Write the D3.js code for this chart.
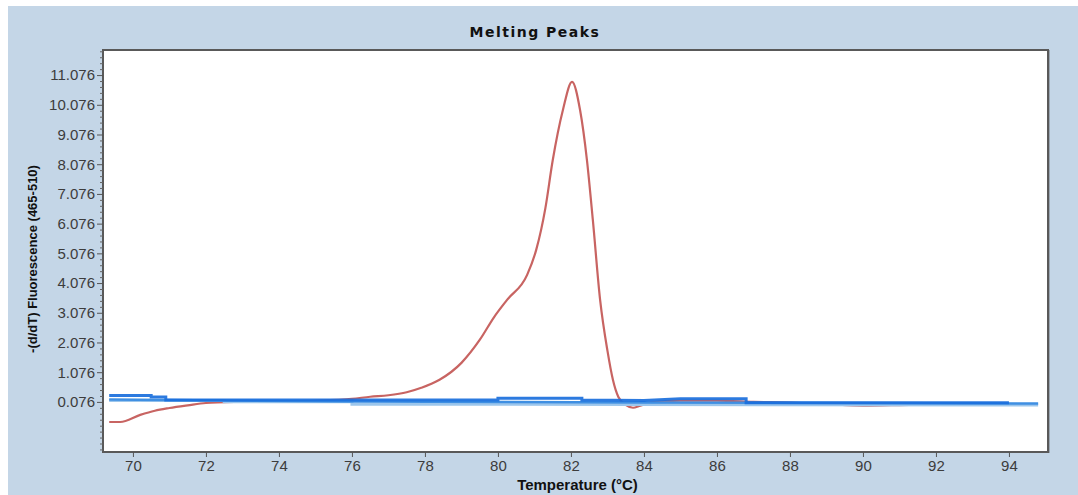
<!DOCTYPE html>
<html>
<head>
<meta charset="utf-8">
<script src="https://cdn.jsdelivr.net/npm/d3@7"></script>
<style>
  html, body { margin: 0; padding: 0; background: #ffffff; }
  svg { display: block; }
</style>
</head>
<body>
<svg id="chart" width="1078" height="495"></svg>
<script>
// Melting peak curve (-dF/dT) of the amplified sample
const sampleTemp = [69.35, 69.65, 70.2, 70.6, 71.0, 71.5, 72.0, 73.0, 74.0, 75.0, 76.0, 76.5, 77.0, 77.5,
  77.9, 78.4, 79.0, 79.5, 79.9, 80.25, 80.8, 81.05, 81.3, 81.5, 81.78, 82.03, 82.25, 82.44, 82.6,
  82.8, 83.0, 83.15, 83.3, 83.5, 83.7, 83.9, 84.2, 85.0, 86.0, 87.0, 88.0, 89.0, 90.0, 91.0, 92.0, 93.0, 94.0];
const sampleValue = [-0.60, -0.60, -0.36, -0.22, -0.13, -0.04, 0.04, 0.08, 0.10, 0.12, 0.18, 0.25, 0.30, 0.40,
  0.55, 0.82, 1.39, 2.16, 2.94, 3.51, 4.35, 5.20, 6.60, 8.20, 9.90, 10.85, 9.90, 8.20, 6.20,
  3.50, 1.80, 0.82, 0.24, -0.02, -0.12, -0.05, 0.06, 0.12, 0.12, 0.08, 0.05, 0.00, -0.05, -0.03, 0.00, 0.00, 0.00];

// Flat control / blank traces
const blankATemp  = [69.35, 70.5, 70.5, 70.9, 70.9, 80.0, 80.0, 82.3, 82.3, 84.0, 85.0, 86.8, 86.8, 94.0];
const blankAValue = [0.29, 0.29, 0.24, 0.24, 0.14, 0.14, 0.20, 0.20, 0.14, 0.12, 0.18, 0.18, 0.05, 0.05];
const blankBTemp  = [69.35, 72.5, 76.0, 84.0, 94.8];
const blankBValue = [0.16, 0.12, 0.09, 0.06, 0.02];
const blankCTemp  = [69.35, 72.5, 72.5, 76.0, 76.0, 94.8];
const blankCValue = [0.12, 0.12, 0.08, 0.08, 0.00, -0.03];

// Axis ticks
const xTicks = [70, 72, 74, 76, 78, 80, 82, 84, 86, 88, 90, 92, 94];
const yTicks = [0.076, 1.076, 2.076, 3.076, 4.076, 5.076, 6.076, 7.076, 8.076, 9.076, 10.076, 11.076];
const yTickLabels = ["0.076", "1.076", "2.076", "3.076", "4.076", "5.076", "6.076", "7.076", "8.076", "9.076", "10.076", "11.076"];

const svg = d3.select("#chart");
const W = 1078, H = 495;
const plot = { left: 103, top: 50, right: 1048, bottom: 452 };

// panel background
svg.append("rect").attr("x", 8).attr("y", 6).attr("width", W - 8).attr("height", H - 6)
  .attr("fill", "#c4d6e7");

const x = d3.scaleLinear().domain([69.18, 95.07]).range([plot.left, plot.right]);
const y = d3.scaleLinear().domain([-1.61, 11.92]).range([plot.bottom, plot.top]);

// plot area
svg.append("rect")
  .attr("x", plot.left).attr("y", plot.top)
  .attr("width", plot.right - plot.left).attr("height", plot.bottom - plot.top)
  .attr("fill", "#ffffff");

svg.append("clipPath").attr("id", "plotclip").append("rect")
  .attr("x", plot.left).attr("y", plot.top)
  .attr("width", plot.right - plot.left).attr("height", plot.bottom - plot.top);

const g = svg.append("g").attr("clip-path", "url(#plotclip)");

const line = d3.line().x(d => x(d[0])).y(d => y(d[1]));
const curved = d3.line().x(d => x(d[0])).y(d => y(d[1])).curve(d3.curveMonotoneX);

const zip = (a, b) => a.map((v, i) => [v, b[i]]);

// sample curve
g.append("path").datum(zip(sampleTemp, sampleValue))
  .attr("d", curved).attr("fill", "none")
  .attr("stroke", "#c86462").attr("stroke-width", 2.2).attr("stroke-linejoin", "round");

// blank traces on top
g.append("path").datum(zip(blankCTemp, blankCValue))
  .attr("d", line).attr("fill", "none").attr("stroke", "#9cc6ec").attr("stroke-width", 3);
g.append("path").datum(zip(blankBTemp, blankBValue))
  .attr("d", line).attr("fill", "none").attr("stroke", "#3f8fe2").attr("stroke-width", 2.5);
g.append("path").datum(zip(blankATemp, blankAValue))
  .attr("d", line).attr("fill", "none").attr("stroke", "#1a6fdc").attr("stroke-width", 3)
  .attr("stroke-opacity", 0.92);

// frame
svg.append("rect")
  .attr("x", plot.left).attr("y", plot.top)
  .attr("width", plot.right - plot.left).attr("height", plot.bottom - plot.top)
  .attr("fill", "none").attr("stroke", "#595959").attr("stroke-width", 2);
svg.append("line").attr("x1", plot.right + 1.5).attr("x2", plot.right + 1.5)
  .attr("y1", plot.top).attr("y2", plot.bottom + 1)
  .attr("stroke", "#9aa6b2").attr("stroke-width", 1);

// y axis
const yMinor = d3.range(-1.524, 11.9, 0.2).filter(v => yTicks.every(t => Math.abs(t - v) > 0.05));
const yAxisMinor = d3.axisLeft(y).tickValues(yMinor).tickSize(3).tickFormat("");
svg.append("g").attr("transform", `translate(${plot.left},0)`).call(yAxisMinor)
  .call(s => s.select(".domain").remove())
  .call(s => s.selectAll("line").attr("stroke", "#666"));

const yAxis = d3.axisLeft(y).tickValues(yTicks).tickSize(6).tickPadding(2)
  .tickFormat((d, i) => yTickLabels[i]);
svg.append("g").attr("transform", `translate(${plot.left},0)`).call(yAxis)
  .call(s => s.select(".domain").remove())
  .call(s => s.selectAll("line").attr("stroke", "#555"))
  .call(s => s.selectAll("text")
    .attr("font-family", "'Liberation Sans', Arial, sans-serif")
    .attr("font-size", 15).attr("fill", "#3c3c3c"));

// x axis
const xAxis = d3.axisBottom(x).tickValues(xTicks).tickSize(5).tickPadding(3).tickFormat(d3.format("d"));
svg.append("g").attr("transform", `translate(0,${plot.bottom})`).call(xAxis)
  .call(s => s.select(".domain").remove())
  .call(s => s.selectAll("line").attr("stroke", "#555"))
  .call(s => s.selectAll("text")
    .attr("font-family", "'Liberation Sans', Arial, sans-serif")
    .attr("font-size", 15).attr("fill", "#3c3c3c"));

// titles
svg.append("text").attr("x", 535).attr("y", 37)
  .attr("text-anchor", "middle")
  .attr("font-family", "'DejaVu Sans', sans-serif").attr("font-weight", "bold")
  .attr("font-size", 14).attr("letter-spacing", 1.5).attr("fill", "#111")
  .text("Melting Peaks");

svg.append("text").attr("x", (plot.left + plot.right) / 2 + 2).attr("y", 490)
  .attr("text-anchor", "middle")
  .attr("font-family", "'Liberation Sans', Arial, sans-serif").attr("font-weight", "bold")
  .attr("font-size", 15).attr("fill", "#111")
  .text("Temperature (°C)");

svg.append("text")
  .attr("transform", `translate(37,${(plot.top + plot.bottom) / 2 + 8}) rotate(-90)`)
  .attr("text-anchor", "middle")
  .attr("font-family", "'Liberation Sans', Arial, sans-serif").attr("font-weight", "bold")
  .attr("font-size", 13).attr("fill", "#111")
  .text("-(d/dT) Fluorescence (465-510)");
</script>
</body>
</html>
